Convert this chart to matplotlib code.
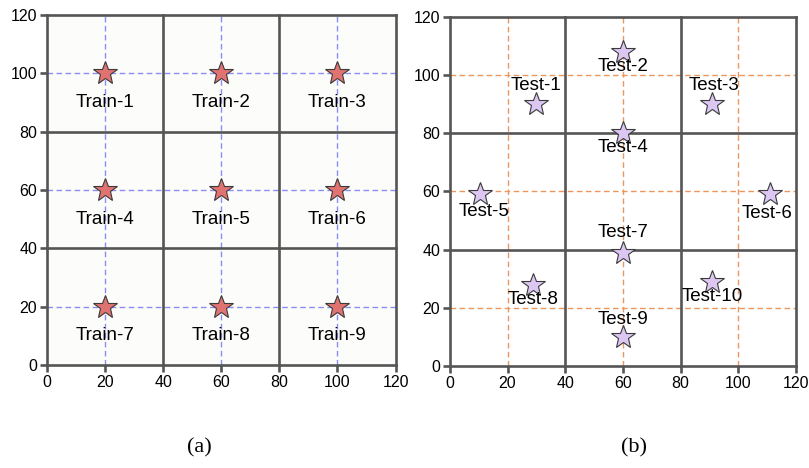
import matplotlib
matplotlib.use("Agg")
import matplotlib.pyplot as plt

train_x = [20, 60, 100, 20, 60, 100, 20, 60, 100]
train_y = [100, 100, 100, 60, 60, 60, 20, 20, 20]
train_labels = ["Train-1", "Train-2", "Train-3", "Train-4", "Train-5",
                "Train-6", "Train-7", "Train-8", "Train-9"]

test_x = [30, 60, 91, 60, 10.5, 111, 60, 29, 60, 91]
test_y = [90, 108, 90, 80, 59, 59, 39, 28, 10, 29]
test_labels = ["Test-1", "Test-2", "Test-3", "Test-4", "Test-5", "Test-6",
               "Test-7", "Test-8", "Test-9", "Test-10"]
# label offsets (dx, dy) in data units
test_offsets = [(0, 6.5), (0, -5), (0.5, 6.5), (0, -5), (1.5, -6), (-1, -6.5),
                (0, 7), (0, -5), (0, 6), (0, -5)]

ticks = [0, 20, 40, 60, 80, 100, 120]
major = [0, 40, 80, 120]
minor = [20, 60, 100]

plt.rcParams['font.family'] = ['Liberation Sans', 'DejaVu Sans']
fig = plt.figure(figsize=(8.09, 4.68), dpi=100)
ax1 = fig.add_axes([0.058, 0.220, 0.431, 0.748])
ax2 = fig.add_axes([0.556, 0.218, 0.428, 0.746])

grid_col = '#555555'

def style(ax, dash_col, bg):
    ax.set_xlim(0, 120)
    ax.set_ylim(0, 120)
    ax.set_facecolor(bg)
    for s in ax.spines.values():
        s.set_visible(False)
    for v in minor:
        ax.axvline(v, color=dash_col, lw=1.0, ls=(0, (4, 2.5)), zorder=1)
        ax.axhline(v, color=dash_col, lw=1.0, ls=(0, (4, 2.5)), zorder=1)
    for v in major:
        ax.axvline(v, color=grid_col, lw=1.9, zorder=2, clip_on=False)
        ax.axhline(v, color=grid_col, lw=1.9, zorder=2, clip_on=False)
    ax.set_xticks(ticks)
    ax.set_yticks(ticks)
    ax.tick_params(axis='both', direction='out', length=5, width=1.9,
                   color=grid_col, labelsize=11.5, pad=2)

style(ax1, '#8c8cf6', '#fcfcfa')
style(ax2, '#ec955c', '#ffffff')

ax1.plot(train_x, train_y, ls='none', marker='*', ms=18,
         mfc='#e07272', mec='#3a3a3a', mew=0.8, zorder=5)
for x, y, t in zip(train_x, train_y, train_labels):
    ax1.text(x, y - 10, t, ha='center', va='center', fontsize=13.5, zorder=6)

ax2.plot(test_x, test_y, ls='none', marker='*', ms=18,
         mfc='#dcc6f2', mec='#3a3a3a', mew=0.8, zorder=5)
for x, y, t, (dx, dy) in zip(test_x, test_y, test_labels, test_offsets):
    ax2.text(x + dx, y + dy, t, ha='center', va='center', fontsize=13.5, zorder=6)

fig.text(0.247, 0.043, "(a)", ha='center', va='center', fontsize=16,
         family='Liberation Serif')
fig.text(0.784, 0.043, "(b)", ha='center', va='center', fontsize=16,
         family='Liberation Serif')

fig.savefig("out.png", dpi=100)
